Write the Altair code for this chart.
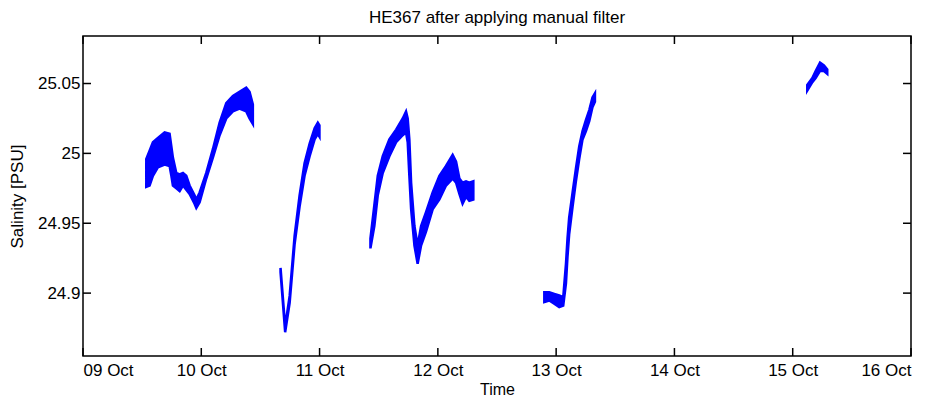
import altair as alt
import pandas as pd

# days after 09 Oct 00:00, lower and upper envelope of the salinity band (PSU)
seg1_d = [0.535, 0.563, 0.591, 0.633, 0.690, 0.732, 0.747, 0.760, 0.789, 0.817, 0.845, 0.873,
          0.901, 0.943, 0.958, 0.986, 1.042, 1.098, 1.155, 1.211, 1.267, 1.323, 1.380, 1.408, 1.436]
seg1_hi = [24.996, 25.002, 25.008, 25.011, 25.015, 25.014, 25.005, 24.997, 24.986, 24.985, 24.986, 24.984,
           24.977, 24.970, 24.967, 24.972, 24.986, 25.003, 25.022, 25.036, 25.041, 25.044, 25.047, 25.044, 25.035]
seg1_lo = [24.976, 24.977, 24.984, 24.990, 24.992, 24.991, 24.984, 24.977, 24.975, 24.973, 24.977, 24.974,
           24.971, 24.964, 24.961, 24.965, 24.982, 24.997, 25.013, 25.025, 25.030, 25.032, 25.030, 25.025, 25.021]

seg2_d = [1.670, 1.709, 1.747, 1.789, 1.831, 1.873, 1.916, 1.958, 1.985, 1.999]
seg2_hi = [24.918, 24.876, 24.898, 24.941, 24.970, 24.993, 25.007, 25.018, 25.022, 25.020]
seg2_lo = [24.915, 24.872, 24.893, 24.935, 24.962, 24.984, 24.998, 25.010, 25.014, 25.012]

seg3_d = [2.430, 2.463, 2.492, 2.534, 2.590, 2.647, 2.703, 2.731, 2.745, 2.759, 2.774, 2.802, 2.829,
          2.858, 2.900, 2.956, 3.013, 3.069, 3.125, 3.154, 3.182, 3.209, 3.238, 3.266, 3.300]
seg3_hi = [24.939, 24.963, 24.984, 24.998, 25.010, 25.017, 25.025, 25.030, 25.025, 25.010, 24.979, 24.948, 24.934,
           24.948, 24.958, 24.972, 24.984, 24.991, 24.999, 24.994, 24.982, 24.979, 24.980, 24.979, 24.980]
seg3_lo = [24.932, 24.948, 24.970, 24.986, 24.998, 25.008, 25.013, 25.015, 25.008, 24.984, 24.960, 24.934, 24.921,
           24.934, 24.944, 24.960, 24.967, 24.977, 24.982, 24.979, 24.971, 24.964, 24.969, 24.966, 24.967]

seg4_d = [3.900, 3.942, 3.984, 4.026, 4.060, 4.083, 4.096, 4.110, 4.139, 4.167, 4.195, 4.223, 4.252,
          4.280, 4.307, 4.328]
seg4_hi = [24.9007, 24.9007, 24.8995, 24.8983, 24.8971, 24.921, 24.939, 24.954, 24.972, 24.989, 25.005,
           25.016, 25.024, 25.031, 25.040, 25.043]
seg4_lo = [24.8936, 24.8947, 24.8924, 24.8900, 24.8911, 24.907, 24.926, 24.942, 24.962, 24.980, 24.996,
           25.010, 25.016, 25.023, 25.033, 25.037]

seg5_d = [6.123, 6.166, 6.194, 6.231, 6.264, 6.292]
seg5_hi = [25.049, 25.054, 25.059, 25.065, 25.063, 25.060]
seg5_lo = [25.045, 25.051, 25.054, 25.059, 25.059, 25.057]

x_ticks = [0, 1, 2, 3, 4, 5, 6, 7]
x_labels = ["09 Oct", "10 Oct", "11 Oct", "12 Oct", "13 Oct", "14 Oct", "15 Oct", "16 Oct"]
y_ticks = [24.9, 24.95, 25.0, 25.05]

segs = [(seg1_d, seg1_lo, seg1_hi), (seg2_d, seg2_lo, seg2_hi), (seg3_d, seg3_lo, seg3_hi),
        (seg4_d, seg4_lo, seg4_hi), (seg5_d, seg5_lo, seg5_hi)]
rows = []
for i, (d, lo, hi) in enumerate(segs):
    for a, b, c in zip(d, lo, hi):
        rows.append({"seg": i, "d": a, "lo": b, "hi": c})
df = pd.DataFrame(rows)

W, H = 828, 320
XDOM = [0, 7]
YDOM = [24.855, 25.084]
BLUE = "#0000ff"
FONT = "Liberation Sans"

label_expr = "[" + ",".join("'%s'" % s for s in x_labels) + "][round(datum.value)]"

xs = alt.Scale(domain=XDOM, nice=False, zero=False)
ys = alt.Scale(domain=YDOM, nice=False, zero=False)

x_axis = alt.Axis(values=x_ticks, labelExpr=label_expr, ticks=False, domain=False,
                  grid=False, title="Time", labelPadding=6, titlePadding=3,
                  labelFontSize=17, titleFontSize=16, labelFont=FONT, titleFont=FONT,
                  titleFontWeight="normal", labelColor="black", titleColor="black")
y_axis = alt.Axis(values=y_ticks, format="~g", ticks=False, domain=False, grid=False,
                  title="Salinity [PSU]", labelPadding=3, titlePadding=11,
                  labelFontSize=17, titleFontSize=17, labelFont=FONT, titleFont=FONT,
                  titleFontWeight="normal", labelColor="black", titleColor="black")

band = alt.Chart(df).mark_area(color=BLUE, stroke=BLUE, strokeWidth=2.5, opacity=1, clip=True).encode(
    x=alt.X("d:Q", scale=xs, axis=x_axis),
    y=alt.Y("lo:Q", scale=ys, axis=y_axis),
    y2="hi:Q",
    detail="seg:N",
)

xt = pd.DataFrame({"v": x_ticks})
yt = pd.DataFrame({"v": y_ticks})
TL = 8
tick_style = dict(color="black", strokeWidth=1.5)
xb = alt.Chart(xt).mark_rule(**tick_style).encode(x=alt.X("v:Q", scale=xs, axis=x_axis), y=alt.value(H), y2=alt.value(H - TL))
xtop = alt.Chart(xt).mark_rule(**tick_style).encode(x=alt.X("v:Q", scale=xs, axis=x_axis), y=alt.value(0), y2=alt.value(TL))
yl = alt.Chart(yt).mark_rule(**tick_style).encode(y=alt.Y("v:Q", scale=ys, axis=y_axis), x=alt.value(0), x2=alt.value(TL))
yr = alt.Chart(yt).mark_rule(**tick_style).encode(y=alt.Y("v:Q", scale=ys, axis=y_axis), x=alt.value(W - TL), x2=alt.value(W))

chart = alt.layer(band, xb, xtop, yl, yr).properties(
    width=W, height=H,
    background="white",
    title=alt.TitleParams("HE367 after applying manual filter", fontSize=17, font=FONT, fontWeight="normal",
                          color="black", offset=8),
    autosize=alt.AutoSizeParams(type="none"),
    padding={"left": 75, "top": 28, "right": 24, "bottom": 42},
).configure_view(stroke="black", strokeWidth=1.5)

chart.save("out.html", embed_options={"renderer": "svg", "actions": False})
